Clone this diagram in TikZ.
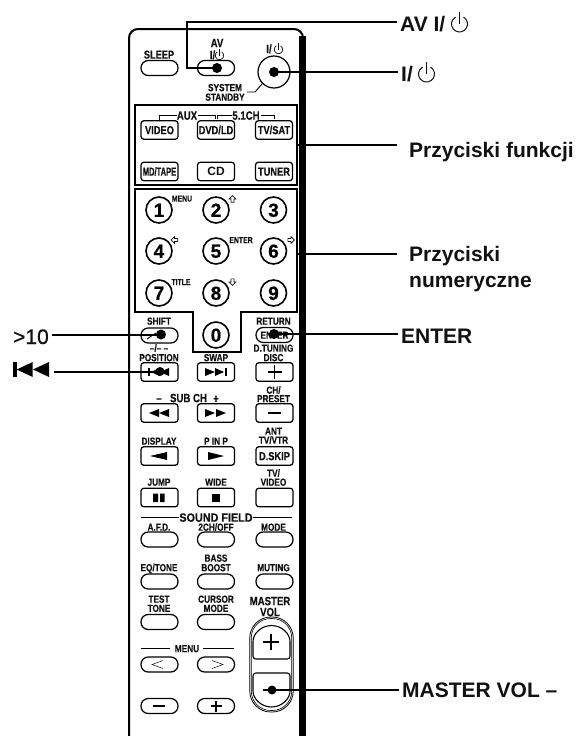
\documentclass[tikz,border=0pt]{standalone}
\usepackage{fontspec}
\setmainfont{Liberation Sans}
\newfontfamily\remA{Liberation Sans}[FakeStretch=0.8,FakeBold=0.35]
\newfontfamily\remB{Liberation Sans}[FakeStretch=0.65,FakeBold=0.35]
\newfontfamily\remC{Liberation Sans}[FakeStretch=0.9,FakeBold=0.35]
\newfontfamily\remM{Liberation Sans}[FakeBold=0.6]
\newcommand\fsz[1]{\bfseries\fontsize{#1}{#1}\selectfont}
\definecolor{ink}{HTML}{111111}
\tikzset{
  smalltxt/.style={inner sep=0pt,text=ink,font=\remA\fsz{10.3},text height=7.4pt,text depth=0pt},
  midtxt/.style={inner sep=0pt,text=ink,font=\remA\fsz{12},text height=8.4pt,text depth=0pt},
  tinytxt/.style={inner sep=0pt,text=ink,font=\remA\fsz{8.6},text height=6pt,text depth=0pt},
  widetxt/.style={inner sep=0pt,text=ink,font=\remC\fsz{12},text height=8.4pt,text depth=0pt},
  sqbtn/.style={draw=black,line width=1.25pt,rounded corners=2.8pt,minimum width=37pt,minimum height=18.5pt,inner sep=0pt,text=ink,font=\remA\fsz{11.6},text height=8.3pt,text depth=0pt},
  pillbtn/.style={draw=black,line width=1.25pt,rounded corners=7.2pt,minimum width=37pt,minimum height=15pt,inner sep=0pt,text=ink,font=\remA\fsz{10.3},text height=7.4pt,text depth=0pt},
  numbtn/.style={draw=black,circle,line width=1.6pt,minimum size=26pt,inner sep=0pt,text=black,font=\remM\fsz{19},text height=13.6pt,text depth=0pt},
  dotmark/.style={circle,fill=black,minimum size=10pt,inner sep=0pt},
  leader/.style={draw=black,line width=2pt},
  thinl/.style={draw=black,line width=.9pt},
  rlabel/.style={anchor=base west,inner xsep=3pt,inner ysep=0pt,text=ink,font=\fsz{21}},
  flabel/.style={anchor=base west,inner xsep=12pt,inner ysep=0pt,text=ink,font=\fsz{21}},
  glyph/.style={fill=black},
  hollow/.style={draw=ink,line width=.6pt,fill=white}
}
\newcommand\rtxt[5][smalltxt]{\node[#1] (#2) at (#3,#4) {#5};}
\newcommand\holarr[3]{\draw[hollow,shift={(#1,#2)},rotate=#3] (0,-3.4)--(3.4,0)--(1.5,0)--(1.5,3.2)--(-1.5,3.2)--(-1.5,0)--(-3.4,0)--cycle;}
\newcommand\pwr[5]{\draw[draw=ink,line width=#5pt] ([shift={(60:#3pt)}]#1,#2) arc[start angle=60,end angle=-240,radius=#3pt];
  \draw[draw=ink,line width=#5pt] (#1,#2) -- ++(0,-#4);}
\newcommand\triL[3]{\fill[glyph] (#1,#3) -- (#2,#3-4) -- (#2,#3+4) -- cycle;}
\newcommand\plusm[4]{\draw[draw=black,line width=#4pt] (#1-#3,#2) -- (#1+#3,#2) (#1,#2-#3) -- (#1,#2+#3);}
\begin{document}
\begin{tikzpicture}[x=1pt,y=-1pt]
\useasboundingbox (0,0) rectangle (580,736);
% body of the remote
\draw[draw=black,line width=2pt,rounded corners=9pt] (129,736) -- (129,29) -- (303,29) -- (303,60);
\draw[draw=black,line width=6.5pt] (302.5,36) -- (302.5,736);
% top row
\node[pillbtn] (sleep) at (159.5,68) {};
\rtxt[smalltxt,font=\remA\fsz{11.5},text height=8.2pt]{tsleep}{159}{54.5}{SLEEP}
\node[pillbtn] (avb) at (216,68) {};
\rtxt[midtxt]{tav}{217}{43}{AV}
\rtxt[midtxt]{tavi}{212.5}{55}{I/}
\pwr{219.5}{55.5}{4.3}{7}{.7}
\node[draw=black,circle,line width=1.2pt,minimum size=32pt,inner sep=0pt] (pwb) at (274,72) {};
\rtxt[midtxt]{tpi}{269}{49}{I/}
\pwr{278.5}{49.5}{4.3}{7}{.7}
\rtxt{tsys}{225}{87.5}{SYSTEM}
\rtxt{tstb}{225}{97}{STANDBY}
\coordinate (sysa) at (247,92);
\coordinate (sysb) at (255,92);
\draw[thinl] (sysa) -- (sysb) -- (pwb.225);
% function box
\node[draw=black,line width=2.2pt,minimum width=162pt,minimum height=80pt,inner sep=0pt] (boxf) at (216,145) {};
\rtxt[midtxt]{taux}{187}{115.5}{AUX}
\rtxt[midtxt]{tch}{246}{115.5}{5.1CH}
\draw[thinl] (159,120) -- (159,115.5) -- (taux.west);
\draw[thinl] (taux.east) ++(1,0) -- (215,115.5) -- (215,119);
\draw[thinl] (217,119) -- (217,115.5) -- (tch.west);
\draw[thinl] (tch.east) ++(1,0) -- (274,115.5) -- (274,119);
\node[sqbtn] (video) at (159.5,130) {VIDEO};
\node[sqbtn] (dvd) at (216,130) {DVD/LD};
\node[sqbtn] (tvsat) at (274,130) {TV/SAT};
\node[sqbtn,font=\remB\fsz{11.6}] (mdt) at (159.5,171.5) {MD/TAPE};
\node[sqbtn,font=\fsz{12}] (cd) at (216,171.5) {CD};
\node[sqbtn] (tuner) at (274,171.5) {TUNER};
% numeric box
\draw[draw=black,line width=2.2pt] (135,189) -- (297,189) -- (297,312) -- (241,312) -- (241,352) -- (193,352) -- (193,312) -- (135,312) -- cycle;
\coordinate (numedge) at (297,254);
\node[numbtn] (n1) at (159,210) {1};
\node[numbtn] (n2) at (216,210) {2};
\node[numbtn] (n3) at (273.5,210) {3};
\node[numbtn] (n4) at (159,251) {4};
\node[numbtn] (n5) at (216,251) {5};
\node[numbtn] (n6) at (273.5,251) {6};
\node[numbtn] (n7) at (159,293) {7};
\node[numbtn] (n8) at (216,293) {8};
\node[numbtn] (n9) at (273.5,293) {9};
\node[numbtn] (n0) at (216,335) {0};
\rtxt[tinytxt]{tmenu}{182}{198.5}{MENU}
\rtxt[tinytxt]{tent}{241}{240}{ENTER}
\rtxt[tinytxt]{ttit}{181}{282}{TITLE}
\holarr{232.5}{199}{0}
\holarr{174.5}{240}{90}
\holarr{291}{240}{-90}
\holarr{232.5}{282}{180}
% shift and return row
\rtxt{tshift}{159}{321}{SHIFT}
\rtxt{tret}{273.5}{321}{RETURN}
\node[pillbtn] (shiftb) at (159.5,335.5) {};
\draw[thinl] (147,339) -- (156,333);
\node[pillbtn] (entb) at (274.5,335) {ENTER};
\rtxt{tmin}{159}{348}{–/– –}
\rtxt{tdtun}{273.5}{348}{D.TUNING}
\rtxt{tpos}{159}{357.5}{POSITION}
\rtxt{tswap}{216}{357.5}{SWAP}
\rtxt{tdisc}{273.5}{357.5}{DISC}
% transport row
\node[sqbtn] (posb) at (159.5,372) {};
\fill[glyph] (148,368) rectangle (150,376);
\triL{151}{159.5}{372}\triL{160}{169}{372}
\node[sqbtn] (swapb) at (216,372) {};
\fill[glyph] (224.5,368) rectangle (226.5,376);
\triL{224}{215}{372}\triL{215}{205}{372}
\node[sqbtn] (discb) at (274.5,372) {};
\plusm{274.5}{372}{7}{1.6}
% sub ch row
\rtxt[midtxt]{tsm}{159}{398}{–}
\rtxt[midtxt]{tsub}{188.5}{398}{SUB CH}
\rtxt[midtxt]{tsp}{216}{398.5}{+}
\rtxt{tch1}{273.5}{390}{CH/}
\rtxt{tpre}{273.5}{398.5}{PRESET}
\node[sqbtn] (rewb) at (159.5,413) {};
\triL{149}{159}{413}\triL{159}{169}{413}
\node[sqbtn] (ffb) at (216,413) {};
\triL{215}{205}{413}\triL{226}{216}{413}
\node[sqbtn] (preb) at (274.5,413) {};
\draw[draw=black,line width=1.6pt] (268,413) -- (281,413);
% display row
\rtxt{tdisp}{159}{441}{DISPLAY}
\rtxt{tpip}{216}{441}{P IN P}
\rtxt{tant}{273.5}{431}{ANT}
\rtxt{ttvv}{273.5}{440}{TV/VTR}
\node[sqbtn] (dispb) at (159.5,456) {};
\fill[glyph] (150,456) -- (167,452) -- (167,460) -- cycle;
\node[sqbtn] (pipb) at (216,456) {};
\fill[glyph] (224,456) -- (208,452) -- (208,460) -- cycle;
\node[sqbtn] (skipb) at (274.5,456) {D.SKIP};
% jump row
\rtxt{tjump}{159}{482}{JUMP}
\rtxt{twide}{216}{482}{WIDE}
\rtxt{ttv}{273.5}{473}{TV/}
\rtxt{tvid}{273.5}{482}{VIDEO}
\node[sqbtn] (jumpb) at (159.5,497.5) {};
\fill[glyph] (153,493.5) rectangle (158,502) (160,493.5) rectangle (164.5,502);
\node[sqbtn] (wideb) at (216,497.5) {};
\fill[glyph] (212,493.5) rectangle (220,502);
\node[sqbtn] (tvvb) at (274.5,497.5) {};
% sound field
\rtxt[widetxt]{tsf}{216}{517.5}{SOUND FIELD}
\draw[thinl] (141,517.5) -- (tsf.west);
\draw[thinl] (tsf.east) -- (292,517.5);
\rtxt{tafd}{159}{527}{A.F.D.}
\rtxt{t2ch}{216}{527}{2CH/OFF}
\rtxt{tmode}{273.5}{527}{MODE}
\node[pillbtn] (afdb) at (159.5,539.5) {};
\node[pillbtn] (chb) at (216,539.5) {};
\node[pillbtn] (modeb) at (274.5,539.5) {};
% eq row
\rtxt{tbass}{216}{558}{BASS}
\rtxt{teq}{159}{567.5}{EQ/TONE}
\rtxt{tboost}{216}{567.5}{BOOST}
\rtxt{tmut}{273.5}{567.5}{MUTING}
\node[pillbtn] (eqb) at (159.5,581.5) {};
\node[pillbtn] (bassb) at (216,581.5) {};
\node[pillbtn] (mutb) at (274.5,581.5) {};
% test row
\rtxt{ttest}{159}{599}{TEST}
\rtxt{ttone}{159}{608.2}{TONE}
\rtxt{tcur}{216}{599}{CURSOR}
\rtxt{tcmode}{216}{608.2}{MODE}
\node[pillbtn] (testb) at (159.5,622) {};
\node[pillbtn] (curb) at (216,622) {};
% menu
\rtxt{tmenub}{187}{648.5}{MENU}
\draw[thinl] (141,648.5) -- (170,648.5);
\draw[thinl] (203,648.5) -- (234,648.5);
\node[pillbtn] (leftb) at (159.5,664.5) {};
\node[pillbtn] (rightb) at (216,664.5) {};
\draw[draw=ink,line width=.5pt] (163,660.5) -- (152,664.5) -- (163,668.5);
\draw[draw=ink,line width=.5pt] (212,660.5) -- (223,664.5) -- (212,668.5);
\node[pillbtn] (minb) at (159.5,706) {};
\node[pillbtn] (plusb) at (216,706) {};
\draw[draw=black,line width=2pt] (153,706) -- (165,706);
\plusm{216}{706}{5.5}{1.3}
% master vol
\rtxt[midtxt]{tmas}{270}{601}{MASTER}
\rtxt[midtxt]{tvol}{270}{612}{VOL}
\node[draw=black,line width=.8pt,rounded corners=21pt,minimum width=43.5pt,minimum height=95pt,inner sep=0pt] (capo) at (271.5,664.5) {};
\node[draw=black,line width=.6pt,rounded corners=19.5pt,minimum width=40.5pt,minimum height=92pt,inner sep=0pt] (capi) at (271.5,664.5) {};
\draw[draw=black,line width=1.1pt,rounded corners=2.8pt,fill=white] (253,644) arc[start angle=180,end angle=0,radius=18.5pt] -- (290,659) -- (253,659) -- cycle;
\draw[draw=black,line width=1.1pt,rounded corners=2.8pt,fill=white] (253,688.5) -- (253,673) -- (290,673) -- (290,688.5) arc[start angle=0,end angle=-180,radius=18.5pt] -- cycle;
\plusm{271}{642}{8}{1.8}
\draw[draw=black,line width=1.6pt] (263,690) -- (272,690);
% dots
\node[dotmark] (dotav) at (217,68) {};
\node[dotmark] (dotpw) at (274,72) {};
\node[dotmark] (dotsh) at (161,334.5) {};
\node[dotmark] (dotent) at (274,334) {};
\node[dotmark,minimum size=9pt] (dotpos) at (160,371.5) {};
\node[dotmark,minimum size=9pt] (dotmv) at (272,690) {};
% outer labels
\node[rlabel] (lav) at (397,31) {AV I/};
\pwr{459.5}{24}{8}{12}{1}
\node[rlabel] (lpw) at (398,81) {I/};
\pwr{426.5}{74}{8}{12}{1}
\node[flabel] (lfun) at (397,157) {Przyciski funkcji};
\node[flabel] (lnuma) at (397,261) {Przyciski};
\node[flabel] (lnumb) at (397,287) {numeryczne};
\node[rlabel] (lent) at (398,343) {ENTER};
\node[rlabel] (lmv) at (399,697) {MASTER VOL --};
\node[anchor=base east,inner xsep=3pt,inner ysep=0pt,text=ink,font=\remM\fontsize{21}{21}\selectfont] (lten) at (52,344) {>10};
\coordinate (lprev) at (54,371.5);
\fill[glyph] (12.7,362) rectangle (16.7,377);
\fill[glyph] (16.7,369.5) -- (32.7,362) -- (32.7,377) -- cycle;
\fill[glyph] (33,369.5) -- (49,362) -- (49,377) -- cycle;
% leaders
\coordinate (avelbow) at (187,22);
\draw[leader] (dotav.center) -| (avelbow) -- (avelbow -| lav.west);
\draw[leader] (dotpw.center) -- (dotpw.center -| lpw.west);
\draw[leader] (boxf.east) -- (boxf.east -| lfun.west);
\draw[leader] (numedge) -- (numedge -| lnuma.west);
\draw[leader] (dotent.center) -- (dotent.center -| lent.west);
\draw[leader] (dotmv.center) -- (dotmv.center -| lmv.west);
\draw[leader] (dotsh.center) -- (dotsh.center -| lten.east);
\draw[leader] (lprev) -- (dotpos.center);
\end{tikzpicture}
\end{document}
